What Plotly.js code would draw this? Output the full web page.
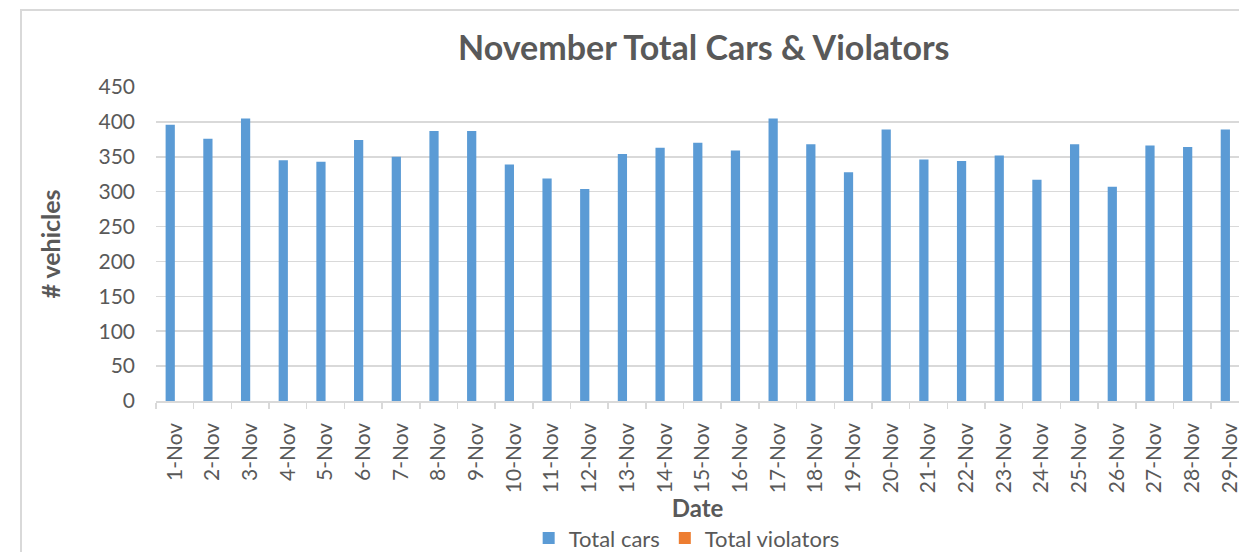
<!DOCTYPE html>
<html>
<head>
<meta charset="utf-8">
<script src="https://cdn.plot.ly/plotly-3.0.1.min.js"></script>
<style>
  html, body { margin: 0; padding: 0; background: #ffffff; }
  #chart { position: absolute; left: 0; top: 0; width: 1239px; height: 552px; }
  #frame { position: absolute; left: 20px; top: 9px; width: 1219px; height: 543px;
           border-left: 2px solid #d9d9d9; border-top: 2px solid #d9d9d9; box-sizing: border-box;
           pointer-events: none; }
</style>
</head>
<body>
<div id="chart"></div>
<div id="frame"></div>
<script>
const dates = ["1-Nov","2-Nov","3-Nov","4-Nov","5-Nov","6-Nov","7-Nov","8-Nov","9-Nov","10-Nov",
  "11-Nov","12-Nov","13-Nov","14-Nov","15-Nov","16-Nov","17-Nov","18-Nov","19-Nov","20-Nov",
  "21-Nov","22-Nov","23-Nov","24-Nov","25-Nov","26-Nov","27-Nov","28-Nov","29-Nov"];
const totalCars = [396, 376, 405, 345, 343, 374, 350, 387, 387, 339,
  319, 304, 354, 363, 370, 359, 405, 368, 328, 389,
  346, 344, 352, 317, 368, 307, 366, 364, 389];
const totalViolators = [0,0,0,0,0,0,0,0,0,0, 0,0,0,0,0,0,0,0,0,0, 0,0,0,0,0,0,0,0,0];
const yTicks = [0, 50, 100, 150, 200, 250, 300, 350, 400, 450];

const grey = "#595959";
const font = "Lato, 'Open Sans', sans-serif";

const data = [
  { type: "bar", name: "Total cars", x: dates, y: totalCars, marker: { color: "#5B9BD5" } },
  { type: "bar", name: "Total violators", x: dates, y: totalViolators, marker: { color: "#ED7D31" } }
];

const layout = {
  width: 1239, height: 552,
  paper_bgcolor: "rgba(0,0,0,0)", plot_bgcolor: "#ffffff",
  margin: { l: 155.5, r: 0, t: 87, b: 151, pad: 0, autoexpand: false },
  barmode: "group", bargap: 0.51, bargroupgap: 0,
  font: { family: font, color: grey },
  title: {
    text: "<b>November Total Cars & Violators</b>",
    font: { family: font, size: 34, color: grey },
    xref: "container", x: 0.568, xanchor: "center",
    yref: "container", y: 0.913, yanchor: "middle"
  },
  xaxis: {
    type: "category",
    range: [-0.5, 28.24],
    tickangle: -90,
    tickfont: { family: font, size: 21, color: grey },
    ticks: "outside", tickson: "boundaries", ticklen: 6, tickcolor: "#d9d9d9", tickwidth: 1.5,
    ticklabelstandoff: 12,
    showline: true, linecolor: "#d9d9d9", linewidth: 1.5,
    showgrid: false, zeroline: false,
    automargin: false,
    title: { text: "<b>Date</b>", font: { family: font, size: 24, color: grey }, standoff: 6 }
  },
  yaxis: {
    range: [0, 450],
    tickvals: yTicks,
    tickfont: { family: font, size: 21, color: grey },
    ticks: "", ticklabelstandoff: 20,
    showgrid: true, gridcolor: "#d9d9d9", gridwidth: 1.5,
    zeroline: false, showline: false,
    automargin: false,
    title: { text: "<b># vehicles</b>", font: { family: font, size: 25, color: grey }, standoff: 30 }
  },
  showlegend: true,
  legend: {
    orientation: "h", x: 0.49, xanchor: "center", y: -0.437, yanchor: "middle",
    font: { family: font, size: 22, color: grey }, bgcolor: "rgba(0,0,0,0)"
  }
};

Plotly.newPlot("chart", data, layout, { displayModeBar: false, staticPlot: true });
</script>
</body>
</html>
